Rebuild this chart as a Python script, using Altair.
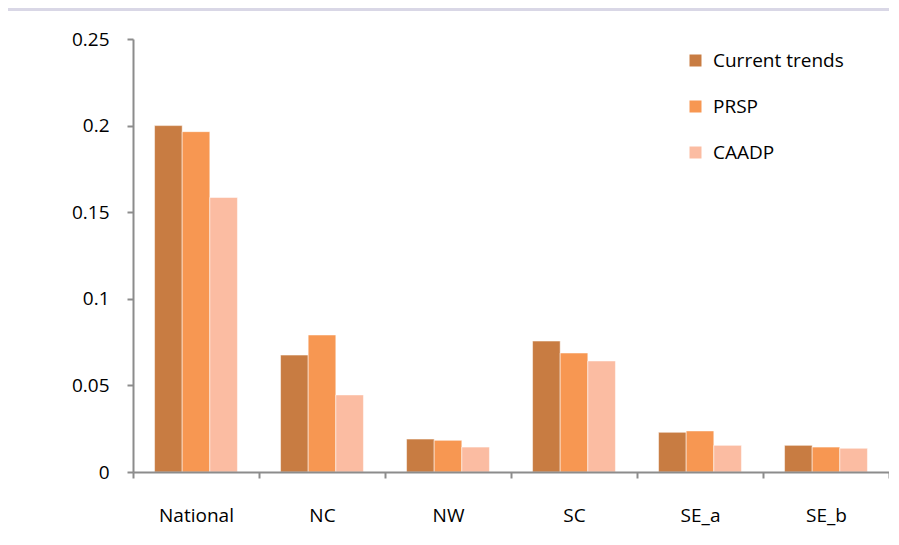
import altair as alt
import pandas as pd

regions = ["National", "NC", "NW", "SC", "SE_a", "SE_b"]
scenarios = ["Current trends", "PRSP", "CAADP"]
current_trends = [0.200, 0.0675, 0.019, 0.0756, 0.0229, 0.0154]
prsp = [0.1965, 0.0791, 0.0183, 0.0687, 0.0237, 0.0144]
caadp = [0.1585, 0.0445, 0.0144, 0.0641, 0.0154, 0.0137]
colors = ["#C87C42", "#F79752", "#FBBCA2"]
y_ticks = [0, 0.05, 0.1, 0.15, 0.2, 0.25]

rows = []
for name, vals in zip(scenarios, [current_trends, prsp, caadp]):
    for r, v in zip(regions, vals):
        rows.append({"region": r, "scenario": name, "value": v})
df = pd.DataFrame(rows)

FONT = "Open Sans"

bg = alt.Chart(pd.DataFrame({"a": [0]})).mark_rect(color="white").encode(
    x=alt.value(-126), x2=alt.value(900), y=alt.value(-28), y2=alt.value(700)
)

bars = alt.Chart(df).mark_bar(stroke="white", strokeWidth=1, strokeOpacity=0.5).encode(
    x=alt.X("region:N", sort=regions, title=None,
            scale=alt.Scale(paddingInner=0, paddingOuter=0),
            axis=alt.Axis(labelAngle=0, tickBand="extent", labelFontSize=19,
                          labelFont=FONT, labelColor="black", labelPadding=28,
                          tickSize=6, domainColor="#8C8C8C", tickColor="#8C8C8C",
                          domainWidth=2, tickWidth=2, zindex=1)),
    xOffset=alt.XOffset("scenario:N", sort=scenarios,
                        scale=alt.Scale(paddingInner=0, paddingOuter=0.78)),
    y=alt.Y("value:Q", title=None,
            scale=alt.Scale(domain=[0, 0.25], nice=False),
            axis=alt.Axis(values=y_ticks, format="~g", grid=False, labelFontSize=19,
                          labelFont=FONT, labelColor="black", labelPadding=18,
                          tickSize=6, domainColor="#8C8C8C", tickColor="#8C8C8C",
                          domainWidth=2, tickWidth=2, zindex=1)),
    color=alt.Color("scenario:N", sort=scenarios,
                    scale=alt.Scale(domain=scenarios, range=colors),
                    legend=alt.Legend(title=None, orient="none", legendX=553, legendY=12,
                                      symbolType="square", symbolSize=144,
                                      symbolStrokeWidth=0, labelFontSize=19,
                                      labelFont=FONT, labelColor="black",
                                      labelOffset=8, rowPadding=26, padding=0)),
)

chart = alt.layer(bg, bars).properties(
    width=756, height=433,
    autosize=alt.AutoSizeParams(type="none"),
    padding={"left": 125, "top": 31, "right": 0, "bottom": 60},
    background="#D9D7E6",
).configure_view(stroke=None)

chart.save("out.html", embed_options={"renderer": "svg", "actions": False})
